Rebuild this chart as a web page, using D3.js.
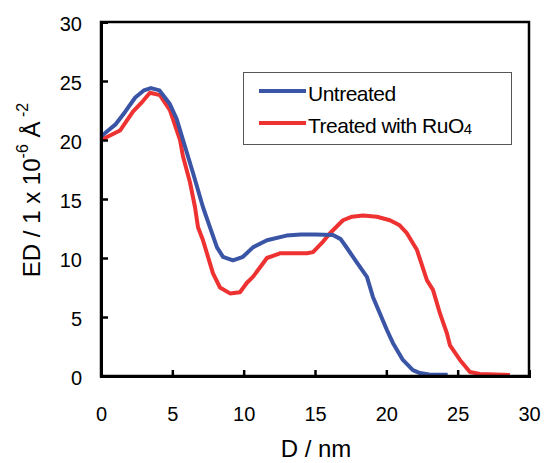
<!DOCTYPE html>
<html>
<head>
<meta charset="utf-8">
<script src="https://cdn.jsdelivr.net/npm/d3@7"></script>
<style>
  body { margin: 0; background: #fff; }
  text { font-family: "Liberation Sans", Arial, sans-serif; fill: #000; }
</style>
</head>
<body>
<div id="chart"></div>
<script>
// values
var untreatedD  = [0, 0.5, 1.0, 1.7, 2.4, 3.0, 3.5, 4.1, 4.8, 5.3, 5.75, 6.45, 7.15, 7.64, 8.13, 8.55, 9.25, 9.95, 10.65, 11.63, 13.0, 14.0, 15.0, 16.26, 16.8, 17.24, 17.94, 18.64, 19.06, 19.55, 20.04, 20.46, 21.16, 21.86, 22.35, 23.0, 24.3];
var untreatedED = [20.3, 20.8, 21.3, 22.4, 23.6, 24.2, 24.4, 24.2, 23.1, 21.8, 20.0, 17.2, 14.3, 12.6, 10.9, 10.1, 9.8, 10.1, 10.9, 11.5, 11.9, 12.0, 12.0, 11.95, 11.6, 10.85, 9.6, 8.4, 6.7, 5.3, 3.9, 2.8, 1.36, 0.5, 0.25, 0.12, 0.1];

var treatedD  = [0, 0.42, 1.33, 2.24, 2.94, 3.43, 4.13, 4.84, 5.54, 5.75, 6.24, 6.59, 6.8, 7.15, 7.5, 7.85, 8.34, 9.04, 9.74, 10.23, 10.65, 11.14, 11.63, 12.54, 13.5, 14.44, 14.86, 15.5, 16.05, 16.96, 17.6, 18.36, 19.34, 20.25, 20.9, 21.44, 22.14, 22.85, 23.27, 23.76, 24.25, 24.46, 25.16, 25.86, 26.56, 28.66];
var treatedED = [20.0, 20.25, 20.8, 22.4, 23.3, 24.0, 23.8, 22.5, 20.0, 18.6, 16.4, 14.3, 12.6, 11.5, 10.1, 8.7, 7.5, 7.0, 7.1, 7.9, 8.4, 9.2, 10.0, 10.4, 10.4, 10.4, 10.5, 11.3, 12.1, 13.2, 13.5, 13.6, 13.5, 13.2, 12.8, 12.1, 10.7, 8.1, 7.3, 5.3, 3.6, 2.6, 1.36, 0.34, 0.17, 0.08];

var xTicks = [0, 5, 10, 15, 20, 25, 30];
var yTicks = [0, 5, 10, 15, 20, 25, 30];

var width = 544, height = 463;
var margin = {top: 22, right: 15, bottom: 87, left: 101};

var svg = d3.select("#chart").append("svg")
    .attr("width", width)
    .attr("height", height);

var x = d3.scaleLinear().domain([0, 30]).range([margin.left, width - margin.right]);
var y = d3.scaleLinear().domain([0, 30]).range([height - margin.bottom, margin.top]);

var line = d3.line()
    .x(function(d) { return x(d[0]); })
    .y(function(d) { return y(d[1]); });

var series = [
  {name: "untreated", color: "#3a54a6", data: d3.zip(untreatedD, untreatedED)},
  {name: "treated", color: "#ee3232", data: d3.zip(treatedD, treatedED)}
];

// treated drawn first so the blue sits on top at the left peak
svg.selectAll("path.curve")
    .data(series.slice().reverse())
  .enter().append("path")
    .attr("class", "curve")
    .attr("d", function(d) { return line(d.data); })
    .attr("fill", "none")
    .attr("stroke", function(d) { return d.color; })
    .attr("stroke-width", 4)
    .attr("stroke-linejoin", "round");

// frame
svg.append("rect")
    .attr("x", x(0)).attr("y", y(30))
    .attr("width", x(30) - x(0)).attr("height", y(0) - y(30))
    .attr("fill", "none").attr("stroke", "#000").attr("stroke-width", 2.5);

// axes with inward ticks
var xAxis = svg.append("g")
    .attr("transform", "translate(0," + y(0) + ")")
    .call(d3.axisBottom(x).tickValues(xTicks).tickSize(-6).tickPadding(0).tickFormat(d3.format("d")));
var yAxis = svg.append("g")
    .attr("transform", "translate(" + x(0) + ",0)")
    .call(d3.axisLeft(y).tickValues(yTicks).tickSize(-7).tickPadding(0).tickFormat(d3.format("d")));

[xAxis, yAxis].forEach(function(g) {
  g.select(".domain").attr("stroke-width", 3);
  g.selectAll(".tick line").attr("stroke-width", 2.5);
  g.selectAll(".tick text").style("font-size", "20px").attr("fill", "#000");
});
xAxis.selectAll(".tick text").attr("dy", null).attr("y", 45);
yAxis.selectAll(".tick text").attr("x", -19).attr("dy", "0.4em");
xAxis.selectAll(".tick").filter(function(d) { return d === 0 || d === 30; }).select("line").remove();
yAxis.selectAll(".tick").filter(function(d) { return d === 0 || d === 30; }).select("line").remove();

// axis titles
svg.append("text")
    .attr("x", 316).attr("y", 457)
    .attr("text-anchor", "middle")
    .style("font-size", "24px")
    .text("D / nm");

var yt = svg.append("text")
    .attr("transform", "translate(40,190) rotate(-90)")
    .attr("text-anchor", "middle")
    .style("font-size", "24px");
yt.append("tspan").text("ED / 1 x 10");
yt.append("tspan").attr("dy", -12).style("font-size", "16px").text("-6");
yt.append("tspan").attr("dy", 12).text(" Å");
yt.append("tspan").attr("dy", -12).style("font-size", "16px").text(" -2");

// legend
var legend = svg.append("g");
legend.append("rect")
    .attr("x", 243.5).attr("y", 72.5)
    .attr("width", 268).attr("height", 72)
    .attr("fill", "#fff").attr("stroke", "#555").attr("stroke-width", 1);

var labels = [["Untreated"], ["Treated with RuO", "4"]];
series.forEach(function(s, i) {
  var ly = 91 + i * 32;
  legend.append("line")
      .attr("x1", 259).attr("x2", 306)
      .attr("y1", ly).attr("y2", ly)
      .attr("stroke", s.color).attr("stroke-width", 4);
  var t = legend.append("text")
      .attr("x", 308).attr("y", ly + 10)
      .style("font-size", "21px")
      .style("letter-spacing", "-0.5px");
  t.append("tspan").text(labels[i][0]);
  if (labels[i][1]) {
    t.append("tspan").attr("dy", 1).style("font-size", "15px").text(labels[i][1]);
  }
});
</script>
</body>
</html>
